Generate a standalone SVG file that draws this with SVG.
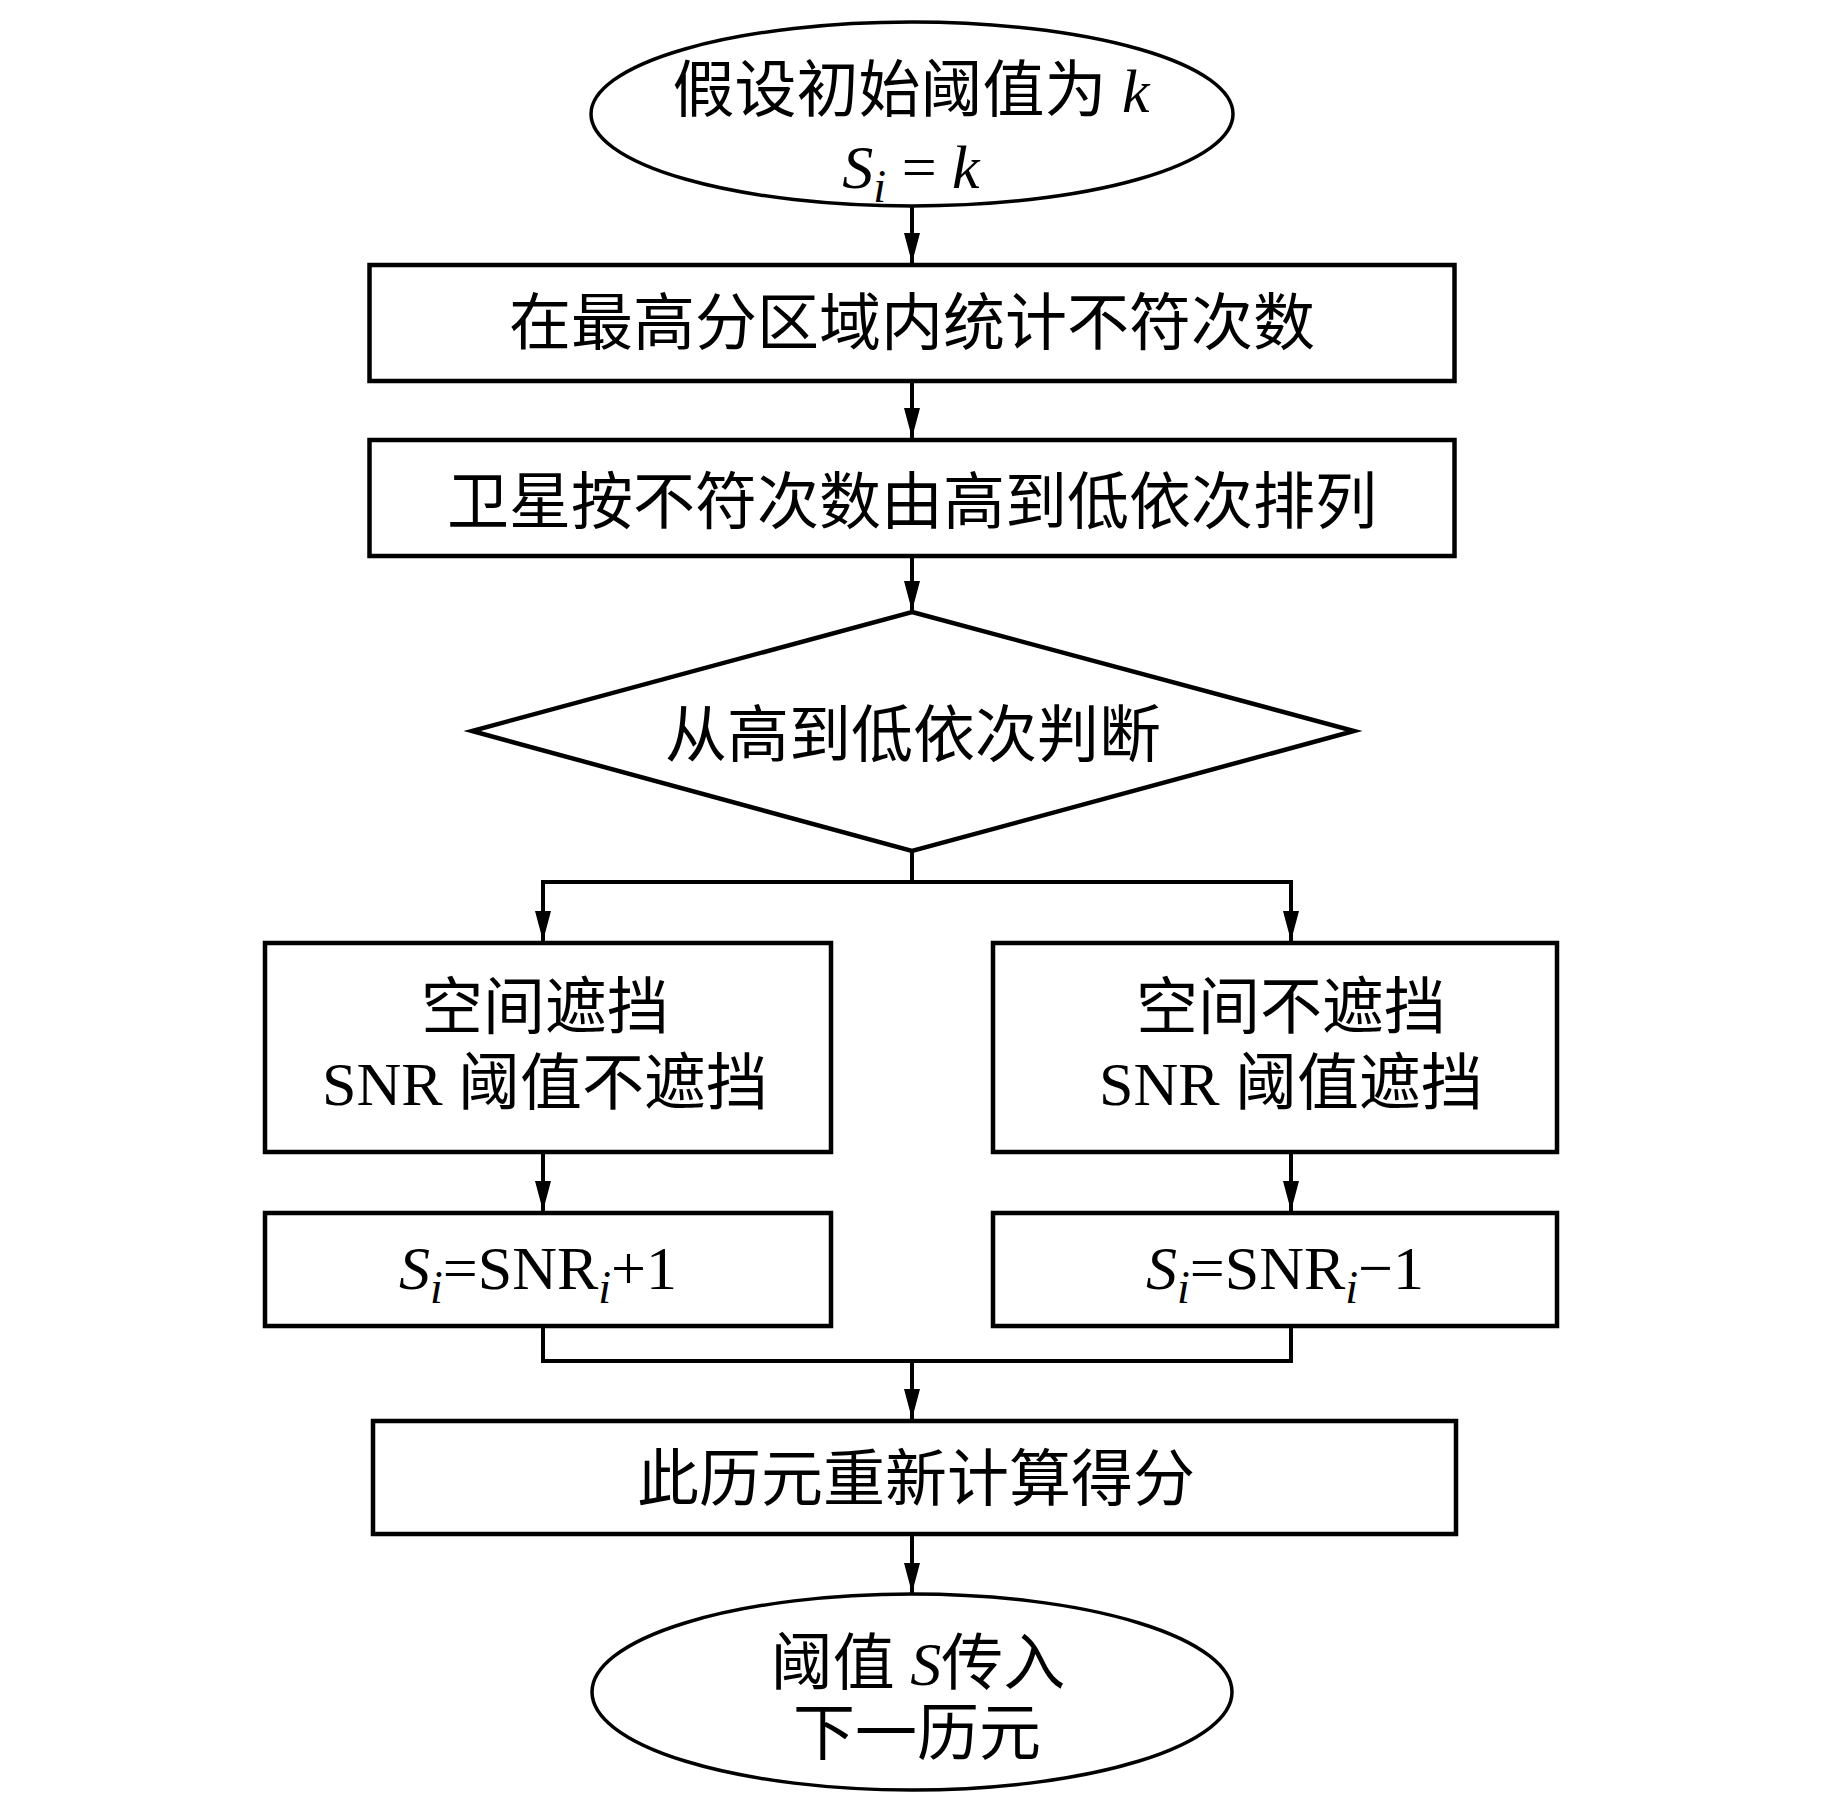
<svg xmlns="http://www.w3.org/2000/svg" width="1843" height="1795" viewBox="0 0 1843 1795">
<defs>
<style>
.shape{fill:#fff;stroke:#000;stroke-width:4.5}
.ell{fill:#fff;stroke:#000;stroke-width:3.5}
.line{fill:none;stroke:#000;stroke-width:4}
.t{font-family:"Liberation Serif","Noto Sans CJK SC",serif;font-size:62px;fill:#000;text-anchor:middle}
.it{font-style:italic}
.sub{font-style:italic;font-size:46px}
</style>
<marker id="arr" viewBox="0 0 30 16" refX="30" refY="8" markerWidth="30" markerHeight="16" markerUnits="userSpaceOnUse" orient="auto">
<path d="M0,0 L30,8 L0,16 Z" fill="#000"/>
</marker>
</defs>
<rect width="1843" height="1795" fill="#fff"/>
<g id="connectors">
<line class="line" x1="912" y1="206" x2="912" y2="263" marker-end="url(#arr)"/>
<line class="line" x1="912" y1="383" x2="912" y2="438" marker-end="url(#arr)"/>
<line class="line" x1="912" y1="558" x2="912" y2="611" marker-end="url(#arr)"/>
<polyline class="line" points="912,851 912,882 543,882 543,941" marker-end="url(#arr)"/>
<polyline class="line" points="912,882 1291,882 1291,941" marker-end="url(#arr)"/>
<line class="line" x1="543" y1="1154" x2="543" y2="1211" marker-end="url(#arr)"/>
<line class="line" x1="1291" y1="1154" x2="1291" y2="1211" marker-end="url(#arr)"/>
<polyline class="line" points="543,1328 543,1361 1291,1361 1291,1328"/>
<line class="line" x1="912" y1="1361" x2="912" y2="1419" marker-end="url(#arr)"/>
<line class="line" x1="912" y1="1536" x2="912" y2="1593" marker-end="url(#arr)"/>
</g>
<g id="start">
<ellipse class="ell" cx="912" cy="114" rx="321" ry="92"/>
<text class="t" x="911" y="112">假设初始阈值为 <tspan class="it">k</tspan></text>
<text class="t" x="911" y="188"><tspan class="it">S</tspan><tspan class="sub" dy="14">i</tspan><tspan dy="-14"> = </tspan><tspan class="it">k</tspan></text>
</g>
<g id="count">
<rect class="shape" x="369.5" y="265" width="1085" height="116"/>
<text class="t" x="912" y="345">在最高分区域内统计不符次数</text>
</g>
<g id="sort">
<rect class="shape" x="369.5" y="440" width="1085" height="116"/>
<text class="t" x="912" y="524">卫星按不符次数由高到低依次排列</text>
</g>
<g id="judge">
<polygon class="shape" points="912,612 1354,731 912,851 472,731"/>
<text class="t" x="913" y="757">从高到低依次判断</text>
</g>
<g id="left">
<rect class="shape" x="265" y="943" width="566" height="209"/>
<text class="t" x="545" y="1029">空间遮挡</text>
<text class="t" x="545" y="1105">SNR 阈值不遮挡</text>
</g>
<g id="right">
<rect class="shape" x="993" y="943" width="564" height="209"/>
<text class="t" x="1291" y="1029">空间不遮挡</text>
<text class="t" x="1291" y="1105">SNR 阈值遮挡</text>
</g>
<g id="plus">
<rect class="shape" x="265" y="1213" width="566" height="113"/>
<text class="t" x="538" y="1289"><tspan class="it">S</tspan><tspan class="sub" dy="14">i</tspan><tspan dy="-14">=SNR</tspan><tspan class="sub" dy="14">i</tspan><tspan dy="-14">+1</tspan></text>
</g>
<g id="minus">
<rect class="shape" x="993" y="1213" width="564" height="113"/>
<text class="t" x="1285" y="1289"><tspan class="it">S</tspan><tspan class="sub" dy="14">i</tspan><tspan dy="-14">=SNR</tspan><tspan class="sub" dy="14">i</tspan><tspan dy="-14">−1</tspan></text>
</g>
<g id="recalc">
<rect class="shape" x="373" y="1421" width="1083" height="113"/>
<text class="t" x="916" y="1501">此历元重新计算得分</text>
</g>
<g id="end">
<ellipse class="ell" cx="912" cy="1692" rx="320" ry="98"/>
<text class="t" x="918" y="1685">阈值 <tspan class="it">S</tspan>传入</text>
<text class="t" x="917" y="1755">下一历元</text>
</g>
</svg>
